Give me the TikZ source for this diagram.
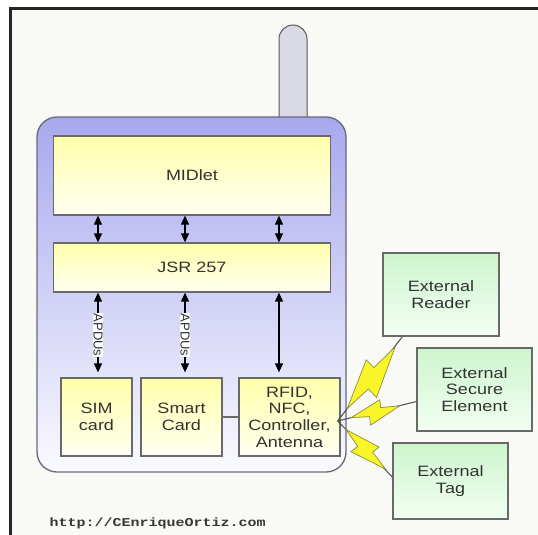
\documentclass[tikz,border=0pt]{standalone}
\usepackage{fontspec}
\setmainfont{Liberation Sans}
\newfontfamily\boxfont[FakeStretch=1.2]{Liberation Sans}
\newfontfamily\urlfont[FakeStretch=1.25]{Liberation Mono}
\usetikzlibrary{calc,arrows.meta,positioning}

\definecolor{bgwhite}{RGB}{249,250,245}
\definecolor{phonetop}{RGB}{168,168,238}
\definecolor{phonebot}{RGB}{250,250,255}
\definecolor{yeltop}{RGB}{255,255,170}
\definecolor{yelbot}{RGB}{255,255,242}
\definecolor{grntop}{RGB}{205,245,205}
\definecolor{grnbot}{RGB}{242,255,242}
\definecolor{boxline}{RGB}{105,105,105}
\definecolor{txtgray}{RGB}{50,50,50}
\definecolor{zapyellow}{RGB}{250,245,40}
\definecolor{zapline}{RGB}{140,140,70}

\tikzset{
  layer/.style={draw=boxline, line width=1.3pt, top color=yeltop, bottom color=yelbot,
    inner sep=0pt, align=center, text=txtgray, font=\boxfont\fontsize{15}{16.7}\selectfont},
  extbox/.style={layer, top color=grntop, bottom color=grnbot},
  link/.style={black, line width=1.1pt, {Triangle[length=9pt,width=8pt]}-{Triangle[length=9pt,width=8pt]}},
  radio/.style={draw=gray!60!black, line width=1pt},
  zap/.pic={
    \filldraw[fill=zapyellow, draw=zapline, line width=0.7pt]
      (1,0) -- (0.34,0.21) -- (0.36,0.06) -- (0,0) -- (0.64,-0.19) -- (0.62,-0.05) -- cycle;
  }
}

\begin{document}
\begin{tikzpicture}[x=1pt, y=-1pt]

\useasboundingbox (0,0) rectangle (538,535);

% Frame and background
\fill[white] (0,0) rectangle (538,535);
\fill[bgwhite] (10,9) rectangle (538,535);
\draw[black!85, line width=3pt] (10,535) -- (10,9) -- (538,9);

% Antenna
\filldraw[fill={rgb,255:red,218;green,218;blue,228}, draw=gray!70!black, line width=1pt]
  (279,117) -- (279,39) arc[start angle=180, end angle=0, radius=14pt] -- (307,117);

% Phone body
\shade[top color=phonetop, bottom color=phonebot, rounded corners=20pt] (37,117) rectangle (346,472);
\draw[draw={rgb,255:red,105;green,105;blue,125}, line width=1.3pt, rounded corners=20pt] (37,117) rectangle (346,472);

% Software layers
\node[layer, minimum width=277pt, minimum height=79pt] (midlet) at (192,175.5) {MIDlet};
\node[layer, minimum width=277pt, minimum height=49pt] (jsr) at (192,267.5) {JSR 257};

% Hardware blocks
\node[layer, minimum width=71pt, minimum height=78pt] (sim) at (96.5,417) {SIM\\card};
\node[layer, minimum width=81pt, minimum height=78pt] (smart) at (181.5,417) {Smart\\Card};
\node[layer, minimum width=101pt, minimum height=78pt] (rfid) at (289.5,417) {RFID,\\NFC,\\Controller,\\Antenna};

% External devices
\node[extbox, minimum width=116pt, minimum height=83pt] (reader) at (441,294.5) {External\\Reader};
\node[extbox, minimum width=115pt, minimum height=83pt] (secure) at (474.5,389.5) {External\\Secure\\Element};
\node[extbox, minimum width=115pt, minimum height=76pt] (tag) at (450.5,481) {External\\Tag};

% MIDlet <-> JSR 257
\foreach \dx in {-94,-7,87}
{
    \draw[link] ([xshift=\dx pt]midlet.south) -- ([xshift=\dx pt]jsr.north);
}

% JSR 257 <-> blocks
\draw[link, shorten >=5pt] ([xshift=1.5pt]sim.north |- jsr.south) -- ([xshift=1.5pt]sim.north)
  node[midway, rotate=-90, fill=white, inner sep=0.8pt, text=txtgray, font=\fontsize{13}{15}\selectfont] {APDUs};
\draw[link, shorten >=5pt] ([xshift=3.5pt]smart.north |- jsr.south) -- ([xshift=3.5pt]smart.north)
  node[midway, rotate=-90, fill=white, inner sep=0.8pt, text=txtgray, font=\fontsize{13}{15}\selectfont] {APDUs};
\draw[link, shorten >=5pt] ([xshift=-10.5pt]rfid.north |- jsr.south) -- ([xshift=-10.5pt]rfid.north);

\draw[draw=boxline, line width=1.3pt] (smart.east) -- (rfid.west);

% Radio links
\coordinate (ant) at ([shift={(-3pt,-4pt)}]rfid.east);
\coordinate (rd) at ([xshift=20pt]reader.south west);
\coordinate (se) at ([yshift=-12pt]secure.west);
\coordinate (tg) at ([yshift=4pt]tag.west);

\draw[radio] (ant) -- (rd);
\draw[radio] (ant) -- (se);
\draw[radio] (ant) -- (tg);

\pic[rotate=52.2, scale=78] at ($(ant)!16pt!(rd)$) {zap};
\pic[rotate=13.7, xscale=50, yscale=56] at ($(ant)!14pt!(se)$) {zap};
\pic[rotate=-45, xscale=56, yscale=58] at ($(ant)!12pt!(tg)$) {zap};

% Web address
\node[anchor=west, text={rgb,255:red,55;green,55;blue,55}, font=\urlfont\bfseries\fontsize{12}{14}\selectfont] (url) at (46,523) {http://CEnriqueOrtiz.com};

\end{tikzpicture}
\end{document}
